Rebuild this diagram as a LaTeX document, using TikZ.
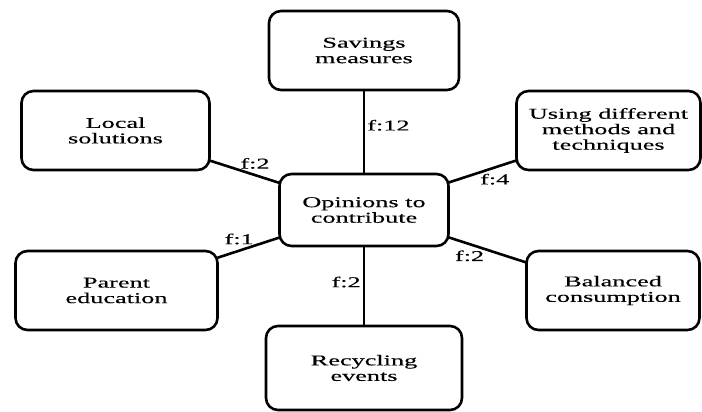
\documentclass[tikz,border=0pt]{standalone}
\usepackage{fontspec}
\setmainfont{Liberation Serif}[FakeStretch=1.75, FakeBold=0.3]
\usetikzlibrary{positioning}
\begin{document}
\begin{tikzpicture}[x=1pt, y=-1pt, line width=2.6pt,
    box/.style = {draw, rounded corners=12pt, align=center, inner sep=0pt, outer sep=0pt,
      minimum height=79pt, font=\fontsize{15}{15.5}\selectfont},
    lbl/.style = {font=\fontsize{15}{15}\selectfont, inner sep=2pt}]
  \useasboundingbox (0,0) rectangle (702,412);
  % centre and the six opinions round it
  \node[box, minimum width=169pt, minimum height=72pt] (c) at (364,210) {Opinions to\\contribute};
  \node[box, minimum width=190pt, above=84pt of c] (sav) {Savings\\measures};
  \node[box, minimum width=188pt, above left=4pt and 70pt of c] (loc) {Local\\solutions};
  \node[box, minimum width=184pt, above right=4pt and 68pt of c] (meth) {Using different\\methods and\\techniques};
  \node[box, minimum width=202pt, below left=5pt and 62pt of c] (par) {Parent\\education};
  \node[box, minimum width=173pt, below right=5pt and 78pt of c] (bal) {Balanced\\consumption};
  \node[box, minimum width=196pt, minimum height=84pt, below=80pt of c] (rec) {Recycling\\events};
  % links with frequencies
  \draw (c) -- node[lbl, pos=0.58, right] {f:12} (sav);
  \draw (c) -- node[lbl, pos=0.35, above=3pt] {f:2} (loc);
  \draw (c) -- node[lbl, pos=0.68, below=3pt] {f:4} (meth);
  \draw (c) -- node[lbl, pos=0.65, above=3pt] {f:1} (par);
  \draw (c) -- node[lbl, pos=0.27, below=3pt] {f:2} (bal);
  \draw (c) -- node[lbl, pos=0.45, left] {f:2} (rec);
\end{tikzpicture}
\end{document}
